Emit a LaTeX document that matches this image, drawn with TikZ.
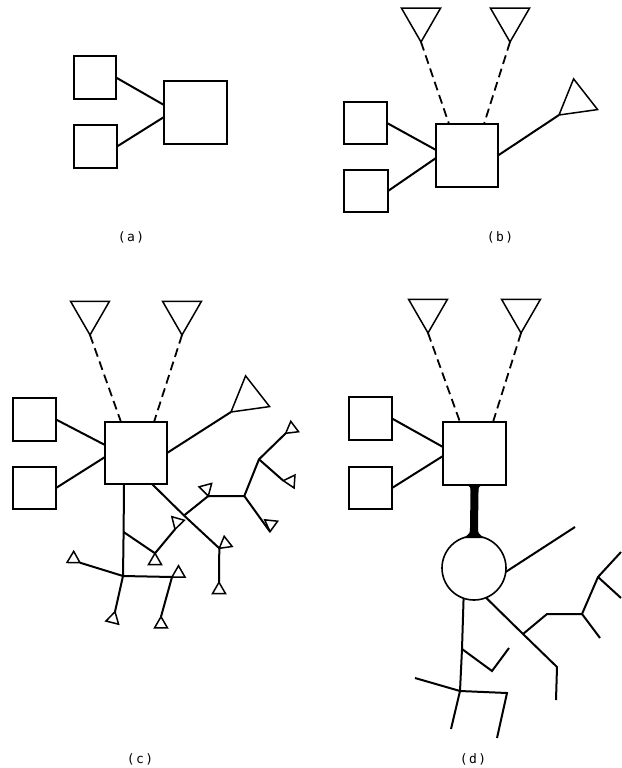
\documentclass[tikz,border=0pt]{standalone}
\usepackage{fontspec}
\setmonofont{DejaVu Sans Mono}
\usetikzlibrary{shapes.geometric,calc}
\begin{document}
\begin{tikzpicture}[x=1pt,y=-1pt,
  box/.style={draw, line width=1.5pt, inner sep=0pt, outer sep=0pt},
  bigtri/.style={draw, regular polygon, regular polygon sides=3, minimum size=45pt, inner sep=0pt, outer sep=0pt, line width=1.5pt},
  stri/.style={draw, regular polygon, regular polygon sides=3, minimum size=15pt, inner sep=0pt, outer sep=0pt, line width=1.5pt},
  link/.style={line width=2pt},
  dlink/.style={line width=1.8pt, dash pattern=on 9pt off 5pt},
  lbl/.style={font=\ttfamily\fontsize{13}{15}\selectfont}]
\useasboundingbox (0,0) rectangle (621,768);

% ---------------- (a)
\node[box, minimum width=42pt, minimum height=43pt] (a1) at (95,77.5) {};
\node[box, minimum width=43pt, minimum height=43pt] (a2) at (95.5,146.5) {};
\node[box, minimum width=63pt, minimum height=63pt] (A) at (195.5,112.5) {};
\draw[link] (a1.east) -- ([yshift=7.5pt]A.west);
\draw[link] (a2.east) -- ([yshift=-4.5pt]A.west);
\node[lbl] (la) at (131,237) {(\kern1.5pt a\kern1.5pt)};

% ---------------- (b)
\node[box, minimum width=43pt, minimum height=42pt] (b1) at (365.5,123) {};
\node[box, minimum width=44pt, minimum height=42pt] (b2) at (366,191) {};
\node[box, minimum width=62pt, minimum height=63pt] (B) at (467,155.5) {};
\node[bigtri, rotate=180, anchor=corner 1] (bt1) at (421,42) {};
\node[bigtri, rotate=180, anchor=corner 1] (bt2) at (510,42) {};
\node[bigtri, rotate=128, anchor=corner 1] (bt3) at (559,115) {};
\draw[dlink] (bt1.corner 1) -- ([xshift=-18pt]B.north);
\draw[dlink] (bt2.corner 1) -- ([xshift=17pt]B.north);
\draw[link] (b1.east) -- ([yshift=5.5pt]B.west);
\draw[link] (b2.east) -- ([yshift=-2.5pt]B.west);
\draw[link] (B.east) -- (bt3.corner 1);
\node[lbl] (lb) at (500,237) {(\kern1.5pt b\kern1.5pt)};

% ---------------- (c)
\node[box, minimum width=43pt, minimum height=43pt] (c1) at (34.5,419.5) {};
\node[box, minimum width=43pt, minimum height=42pt] (c2) at (34.5,488) {};
\node[box, minimum width=62pt, minimum height=62pt] (C) at (136,453) {};
\node[bigtri, rotate=180, anchor=corner 1] (ct1) at (90,335) {};
\node[bigtri, rotate=180, anchor=corner 1] (ct2) at (182,335) {};
\node[bigtri, rotate=128, anchor=corner 1] (ct3) at (231,412) {};
\draw[dlink] (ct1.corner 1) -- ([xshift=-15pt]C.north);
\draw[dlink] (ct2.corner 1) -- ([xshift=18pt]C.north);
\draw[link] (c1.east) -- ([yshift=8pt]C.west);
\draw[link] (c2.east) -- ([yshift=-4pt]C.west);
\draw[link] (C.east) -- (ct3.corner 1);
% small terminals
\node[stri, rotate=-121, anchor=corner 1] (t1) at (80,562.7) {};
\node[stri, rotate=0, anchor=corner 1] (t2) at (155,553.3) {};
\node[stri, rotate=164, anchor=corner 1] (t3) at (175,529.3) {};
\node[stri, rotate=0, anchor=corner 2] (t4) at (172,577) {};
\node[stri, rotate=0, anchor=corner 1] (t5) at (161,616.7) {};
\node[stri, rotate=-14, anchor=corner 1] (t6) at (115,611.7) {};
\node[stri, rotate=128, anchor=corner 1] (t7) at (219.3,548.3) {};
\node[stri, rotate=0, anchor=corner 1] (t8) at (219,582.3) {};
\node[stri, rotate=-165, anchor=corner 1] (t9) at (208.3,496) {};
\node[stri, rotate=174, anchor=corner 1] (t10) at (270,531.7) {};
\node[stri, rotate=127, anchor=corner 1] (t11) at (285.7,433.3) {};
\node[stri, rotate=86, anchor=corner 1] (t12) at (283.3,480.7) {};
\coordinate (cv) at ([xshift=-12pt]C.south);
\coordinate (cd) at ([xshift=16pt]C.south);
\coordinate (cb) at (123.6,532);
\coordinate (cj) at (123,576);
\coordinate (cb2) at (184,515.5);
\coordinate (cj2) at (244.3,496);
\coordinate (cj3) at (259,459.3);
\draw[link] (cv) -- (cb) -- (cj);
\draw[link] (cb) -- (t2.corner 1) -- (t3.corner 1);
\draw[link] (cj) -- (t1.corner 1);
\draw[link] (cj) -- (t4.corner 2) -- (t5.corner 1);
\draw[link] (cj) -- (t6.corner 1);
\draw[link] (cd) -- (cb2) -- (t7.corner 1) -- (t8.corner 1);
\draw[link] (cb2) -- (t9.corner 1) -- (cj2) -- (t10.corner 1);
\draw[link] (cj2) -- (cj3) -- (t11.corner 1);
\draw[link] (cj3) -- (t12.corner 1);
\node[lbl] (lc) at (140,759) {(\kern1.5pt c\kern1.5pt)};

% ---------------- (d)
\node[box, minimum width=43pt, minimum height=43pt] (d1) at (370.5,418.5) {};
\node[box, minimum width=43pt, minimum height=42pt] (d2) at (370.5,488) {};
\node[box, minimum width=63pt, minimum height=63pt] (D) at (474.5,453.5) {};
\node[bigtri, rotate=180, anchor=corner 1] (dt1) at (428,333) {};
\node[bigtri, rotate=180, anchor=corner 1] (dt2) at (521,333) {};
\draw[dlink] (dt1.corner 1) -- ([xshift=-14.5pt]D.north);
\draw[dlink] (dt2.corner 1) -- ([xshift=18.5pt]D.north);
\draw[link] (d1.east) -- ([yshift=6.5pt]D.west);
\draw[link] (d2.east) -- ([yshift=-2.5pt]D.west);
\node[draw, circle, minimum size=64pt, inner sep=0pt, outer sep=0pt, line width=1.6pt] (circ) at (474,568) {};
\fill ($(D.south)+(-8,0)$) .. controls ($(D.south)+(-4,2)$) .. ($(D.south)+(-4,7)$)
  -- ($(circ.north)+(-4,-8)$) .. controls ($(circ.north)+(-4,-3)$) .. ($(circ.north)+(-10,2)$)
  -- ($(circ.north)+(10,2)$) .. controls ($(circ.north)+(4,-3)$) .. ($(circ.north)+(4,-8)$)
  -- ($(D.south)+(4,7)$) .. controls ($(D.south)+(4,2)$) .. ($(D.south)+(8,0)$) -- cycle;
\coordinate (e1) at (575,527);
\coordinate (db) at (523,634);
\coordinate (dk1) at (557,667);
\coordinate (e2) at (556,700);
\coordinate (dh) at (547,614);
\coordinate (dj) at (582,614);
\coordinate (e3) at (600,638);
\coordinate (dk) at (598,577);
\coordinate (e4) at (621,552);
\coordinate (e5) at (621,598);
\coordinate (dv) at (462,649);
\coordinate (dm) at (492,671);
\coordinate (e6) at (509,648);
\coordinate (dj2) at (460,691);
\coordinate (e7) at (415,678);
\coordinate (dr) at (507,693);
\coordinate (e8) at (497,738);
\coordinate (e9) at (451,729);
\draw[link] (circ.-7) -- (e1);
\draw[link] (circ.-68) -- (db) -- (dk1) -- (e2);
\draw[link] (db) -- (dh) -- (dj) -- (e3);
\draw[link] (dj) -- (dk) -- (e4);
\draw[link] (dk) -- (e5);
\draw[link] (circ.-109) -- (dv) -- (dj2);
\draw[link] (dv) -- (dm) -- (e6);
\draw[link] (dj2) -- (e7);
\draw[link] (dj2) -- (dr) -- (e8);
\draw[link] (dj2) -- (e9);
\node[lbl] (ld) at (473,759) {(\kern1.5pt d\kern1.5pt)};
\end{tikzpicture}
\end{document}
